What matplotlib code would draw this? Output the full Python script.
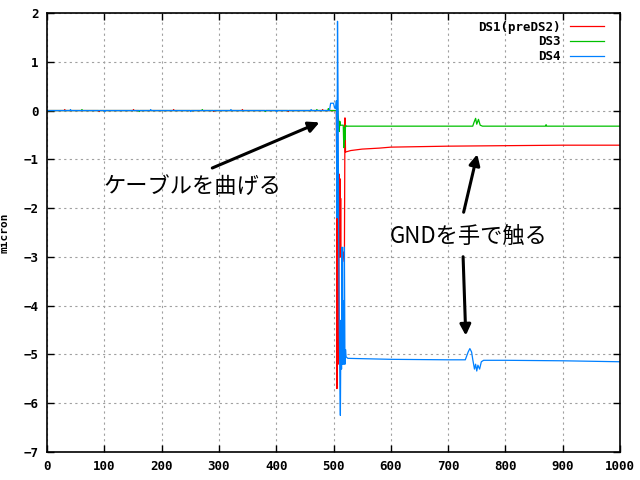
import matplotlib
matplotlib.use("Agg")
import matplotlib.pyplot as plt

# DS1 (preDS2) - red
x_ds1 = [0, 30, 31, 32, 90, 91, 92, 150, 151, 152, 220, 221, 222, 290, 291, 292,
         340, 341, 342, 420, 421, 422, 480, 481, 482,
         505, 505.5, 506, 506.5, 507, 507.5, 508, 508.5, 509, 509.5, 510, 510.5,
         511, 511.5, 512, 512.5, 513, 514, 515, 517, 519, 520, 521,
         530, 550, 580, 600, 650, 700, 800, 900, 1000]
y_ds1 = [0, 0, 0.02, 0, 0, -0.02, 0, 0, 0.02, 0, 0, 0.02, 0, 0, -0.02, 0,
         0, 0.02, 0, 0, -0.02, 0, 0, 0.02, 0,
         0, -1.2, -5.7, -1.3, -4.8, -1.2, -5.2, -1.5, -4.6, -1.3, -3.0, -1.6,
         -3.0, -1.4, -3.0, -1.8, -3.0, -2.9, -3.0, -2.9, -3.1, -0.15, -0.85,
         -0.82, -0.79, -0.77, -0.75, -0.74, -0.73, -0.72, -0.71, -0.71]

# DS3 - green
x_ds3 = [0, 60, 61, 62, 160, 161, 162, 270, 271, 272, 380, 381, 382, 470, 471, 472,
         490, 491, 492, 505, 507, 509, 510, 511, 512, 517, 518, 519, 520, 521, 522,
         600, 700, 743, 745, 748, 750, 753, 756, 760, 870, 871, 872, 1000]
y_ds3 = [0, 0, 0.02, 0, 0, -0.02, 0, 0, 0.02, 0, 0, -0.02, 0, 0, 0.02, 0,
         0, 0.04, 0, 0, 0.05, -0.22, -0.43, -0.22, -0.3, -0.3, -0.76, -0.35, -0.6, -0.3, -0.32,
         -0.32, -0.32, -0.32, -0.25, -0.16, -0.28, -0.18, -0.3, -0.32, -0.32, -0.29, -0.32, -0.32]

# DS4 - blue
x_ds4 = [0, 40, 41, 42, 100, 101, 102, 180, 181, 182, 250, 251, 252, 320, 321, 322,
         400, 401, 402, 460, 461, 462, 493,
         495, 500, 502, 504, 505, 506, 507, 508, 509, 510, 511, 512, 513, 514, 515,
         516, 517, 518, 519, 520, 521, 522, 525, 600, 700, 730, 735, 738, 741, 743,
         746, 748, 750, 752, 755, 758, 762, 800, 900, 1000]
y_ds4 = [0, 0, 0.02, 0, 0, -0.02, 0, 0, 0.02, 0, 0, -0.02, 0, 0, 0.02, 0,
         0, -0.02, 0, 0, 0.02, 0, 0,
         0.15, 0.15, 0.05, 0.05, 0.2, -2.2, 1.83, 0.2, -2.5, -4.3, -5.4, -6.25, -4.3, -5.3, -2.8,
         -5.2, -3.9, -5.2, -2.8, -5.2, -4.9, -5.05, -5.08, -5.1, -5.11, -5.11, -4.95, -4.88, -4.95, -5.1,
         -5.3, -5.2, -5.34, -5.22, -5.3, -5.15, -5.12, -5.12, -5.13, -5.15]

mono = {"family": "DejaVu Sans Mono", "weight": "bold", "size": 9}
jp = ["Noto Sans CJK JP", "DejaVu Sans"]

fig = plt.figure(figsize=(6.4, 4.8), dpi=100)
ax = fig.add_axes([47/640, 1-452/480, 573/640, 439/480])

ax.plot(x_ds1, y_ds1, color="#ff0000", lw=0.9, label="DS1(preDS2)")
ax.plot(x_ds3, y_ds3, color="#00c000", lw=0.9, label="DS3")
ax.plot(x_ds4, y_ds4, color="#0080ff", lw=0.9, label="DS4")

ax.set_xlim(0, 1000)
ax.set_ylim(-7, 2)
ax.set_xticks(range(0, 1001, 100))
ax.set_yticks(range(-7, 3))
ax.grid(True, color="#a0a0a0", linestyle=(0, (2, 3)), lw=0.8)
ax.tick_params(direction="in", top=True, right=True, length=5, width=1, pad=6)
for lab in ax.get_xticklabels() + ax.get_yticklabels():
    lab.set_fontfamily(mono["family"])
    lab.set_fontweight("bold")
    lab.set_fontsize(9)
for s in ax.spines.values():
    s.set_linewidth(1.2)
ax.set_ylabel("micron", fontfamily="DejaVu Sans Mono", fontweight="bold", fontsize=8)
ax.yaxis.set_label_coords(-0.065, 0.5)

leg = ax.legend(loc="upper right", bbox_to_anchor=(0.985, 1.0), markerfirst=False,
                frameon=False, handlelength=2.7, labelspacing=0.15, borderaxespad=0.2,
                prop=mono)
for t in leg.get_texts():
    t.set_ha("right")

arrow = dict(arrowstyle="-|>", color="black", lw=2.2, mutation_scale=16)
ax.text(98, -1.55, "ケーブルを曲げる", family=jp, fontsize=16, va="center", ha="left")
ax.annotate("", xy=(480, -0.22), xytext=(284, -1.2), arrowprops=arrow)
ax.text(599, -2.6, "GNDを手で触る", family=jp, fontsize=16, va="center", ha="left")
ax.annotate("", xy=(752, -0.84), xytext=(726, -2.14), arrowprops=arrow)
ax.annotate("", xy=(731, -4.67), xytext=(726, -2.94), arrowprops=arrow)

fig.savefig("out.png", dpi=100)
